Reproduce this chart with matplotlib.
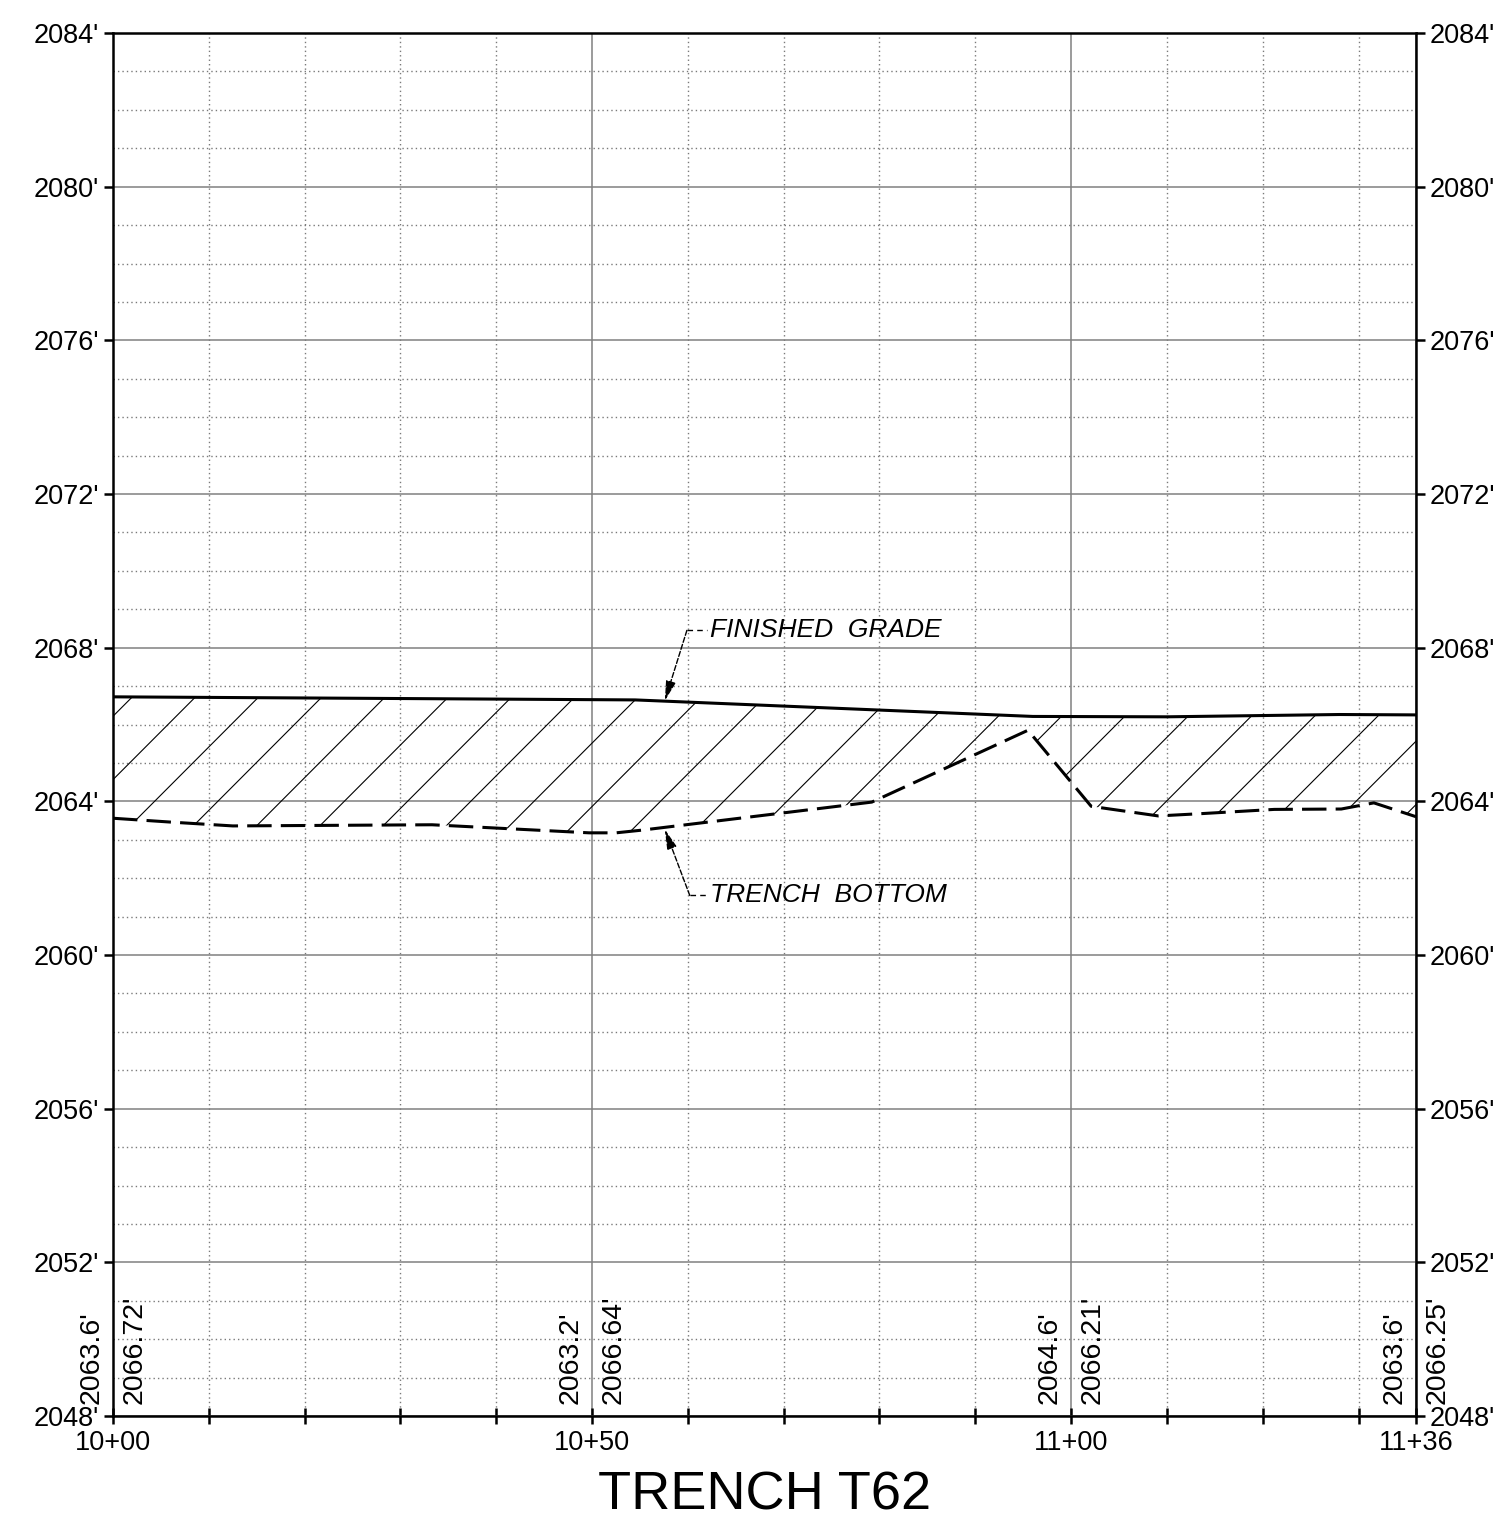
import matplotlib
matplotlib.use("Agg")
import matplotlib.pyplot as plt
import numpy as np
from matplotlib.patches import Polygon
from matplotlib.collections import LineCollection

plt.rcParams['font.family'] = ['Liberation Sans', 'DejaVu Sans']

# Finished grade profile (station ft, elevation ft)
fg_sta = [1000, 1054.5, 1096, 1110, 1128, 1136]
fg_elev = [2066.72, 2066.64, 2066.21, 2066.20, 2066.26, 2066.25]

# Trench bottom profile
tb_sta = [1000, 1006, 1012.5, 1033.3, 1049.7, 1052.5, 1055.2, 1079.2, 1095.5,
          1102.1, 1109.1, 1113.6, 1121.2, 1128.2, 1131.6, 1136]
tb_elev = [2063.56, 2063.46, 2063.36, 2063.39, 2063.18, 2063.18, 2063.25, 2063.98, 2065.85,
           2063.87, 2063.62, 2063.68, 2063.79, 2063.80, 2063.96, 2063.60]

# Labelled stations and elevations written at the bottom
lbl_sta = [1000, 1050, 1100, 1136]
lbl_tb = ["2063.6'", "2063.2'", "2064.6'", "2063.6'"]
lbl_fg = ["2066.72'", "2066.64'", "2066.21'", "2066.25'"]
sta_ticklabels = ["10+00", "10+50", "11+00", "11+36"]

# Callouts: (arrow tip, knee, text start)
callouts = [
    ("FINISHED  GRADE", (1057.6, 2066.62), (1059.9, 2068.45), (1062.3, 2068.45)),
    ("TRENCH  BOTTOM", (1057.6, 2063.27), (1060.2, 2061.55), (1062.3, 2061.55)),
]

fig = plt.figure(figsize=(15.01, 15.27), dpi=100)
ax = fig.add_axes([113 / 1501, 1 - 1416 / 1527, (1416 - 113) / 1501, (1416 - 33) / 1527])

ax.set_xlim(1000, 1136)
ax.set_ylim(2048, 2084)

# grid
ax.set_xticks(lbl_sta)
ax.set_xticklabels(sta_ticklabels)
ax.set_xticks(np.arange(1010, 1136, 10), minor=True)
yt = np.arange(2048, 2085, 4)
ax.set_yticks(yt)
ax.set_yticklabels([f"{v}'" for v in yt])
ax.set_yticks(np.arange(2049, 2084, 1), minor=True)
ax.set_axisbelow(True)
ax.grid(which='major', color='#808080', lw=1.1)
ax.grid(which='minor', color='#7a7a7a', lw=1.0, linestyle=(0, (1, 2.2)))

ax.tick_params(axis='x', which='both', direction='inout', length=12, width=1.8,
               labelsize=19.5, pad=4, top=False)
ax.tick_params(axis='y', which='major', direction='out', length=6.5, width=1.8,
               labelsize=19.5, pad=3.5, left=True, right=True, labelleft=True, labelright=True)
ax.tick_params(axis='y', which='minor', length=0)
for sp in ax.spines.values():
    sp.set_linewidth(1.8)

# hatched fill between grade and trench bottom
poly_xy = np.vstack([np.column_stack([fg_sta, fg_elev]),
                     np.column_stack([tb_sta[::-1], tb_elev[::-1]])])
region = Polygon(poly_xy, closed=True, facecolor='none', edgecolor='none')
ax.add_patch(region)
k = 9.6 / 38.4          # 45 deg on screen
gap = 6.6
segs = []
for i in range(-12, 20):
    x0 = 1054.5 + i * gap
    segs.append([(x0 - 30, 2066.64 - 30 * k), (x0 + 10, 2066.64 + 10 * k)])
hatch = LineCollection(segs, colors='black', linewidths=0.8, zorder=3)
ax.add_collection(hatch)
hatch.set_clip_path(region)

ax.plot(fg_sta, fg_elev, color='black', lw=2.2, zorder=4)
ax.plot(tb_sta, tb_elev, color='black', lw=2.2, dashes=(8, 3), zorder=4)

# bottom value labels
for s, t, f in zip(lbl_sta, lbl_tb, lbl_fg):
    ax.annotate(t, xy=(s, 2048), xytext=(-6, 9), textcoords='offset points',
                rotation=90, ha='right', va='bottom', fontsize=20.5)
    ax.annotate(f, xy=(s, 2048), xytext=(6, 9), textcoords='offset points',
                rotation=90, ha='left', va='bottom', fontsize=20.5)

# callouts
for text, tip, knee, tx in callouts:
    ax.plot([knee[0], tx[0] - 0.3], [knee[1], tx[1]], color='black', lw=1.0,
            dashes=(4, 3), zorder=5)
    ax.annotate('', xy=tip, xytext=knee,
                arrowprops=dict(arrowstyle='-|>,head_length=1.2,head_width=0.3',
                                color='black', lw=1.0, linestyle='--',
                                shrinkA=0, shrinkB=0), zorder=5)
    ax.text(tx[0], tx[1], text, ha='left', va='center', fontsize=19,
            style='italic', zorder=5)

fig.text((113 + 1416) / 2 / 1501, 1 - 1495 / 1527, "TRENCH T62",
         ha='center', va='center', fontsize=39)

fig.savefig("out.png", dpi=100)
